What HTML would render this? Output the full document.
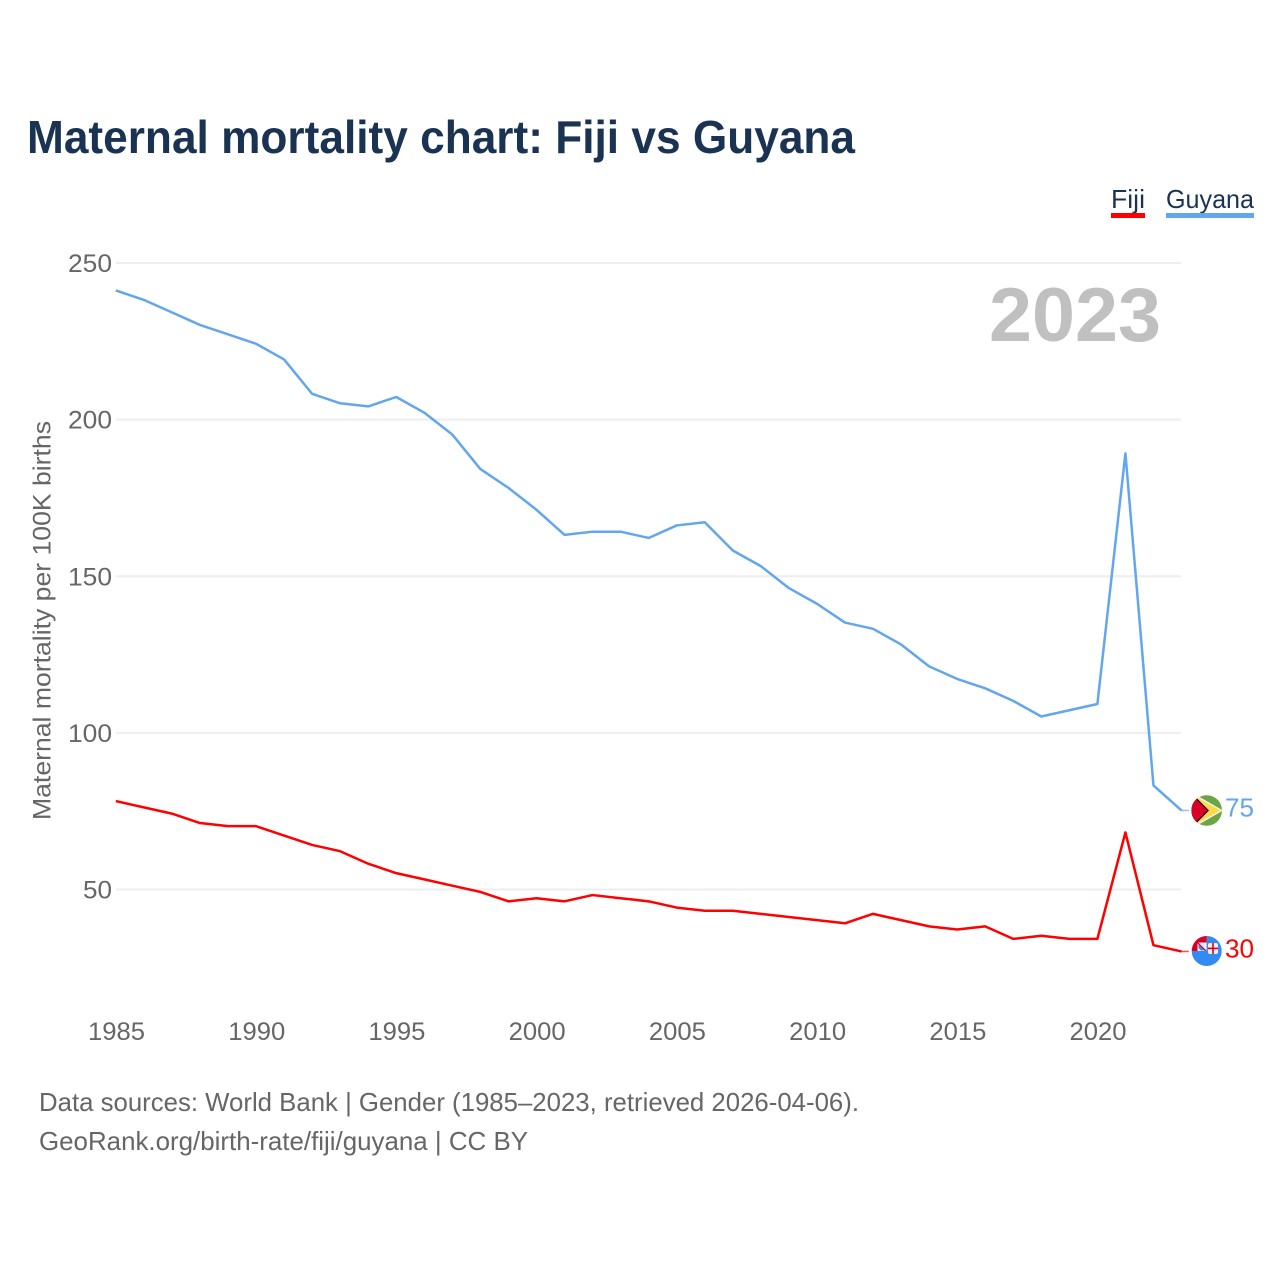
<!DOCTYPE html>
<html lang="en">
<head>
<meta charset="utf-8">
<title>Maternal mortality chart: Fiji vs Guyana</title>
<style>
html,body{margin:0;padding:0;background:#fff;}
svg{display:block;font-family:"Liberation Sans",sans-serif;}
</style>
</head>
<body>
<svg id="chart" width="1280" height="1280" viewBox="0 0 1280 1280" xmlns="http://www.w3.org/2000/svg">
  <rect width="1280" height="1280" fill="#ffffff"/>
  <text x="27" y="153" font-size="46" font-weight="700" fill="#1a3353" textLength="828" lengthAdjust="spacingAndGlyphs">Maternal mortality chart: Fiji vs Guyana</text>

  <g>
    <text x="1111" y="208" font-size="26" fill="#1a3353" textLength="34" lengthAdjust="spacingAndGlyphs">Fiji</text>
    <rect x="1111" y="213" width="34" height="5" fill="#ff0000"/>
  </g>
  <g>
    <text x="1166" y="208" font-size="26" fill="#1a3353" textLength="88" lengthAdjust="spacingAndGlyphs">Guyana</text>
    <rect x="1166" y="213" width="88" height="5" fill="#62a6ec"/>
  </g>

  <g id="grid"></g>
  <g id="yticks"></g>
  <g id="xticks"></g>

  <text transform="translate(50.5,820) rotate(-90)" font-size="25" fill="#666666" textLength="399" lengthAdjust="spacingAndGlyphs">Maternal mortality per 100K births</text>

  <text x="1161" y="341" text-anchor="end" font-size="76" font-weight="700" fill="#c0c0c0" textLength="172" lengthAdjust="spacingAndGlyphs">2023</text>

  <g id="series" transform="translate(-0.2,-0.7)"></g>

  <g>
    <defs>
      <clipPath id="clip-guyana"><circle cx="1206.7" cy="810.5" r="15.3"/></clipPath>
      <clipPath id="clip-fiji-top"><rect x="1191" y="935" width="15.7" height="16"/></clipPath>
    </defs>
    <g clip-path="url(#clip-guyana)">
      <rect x="1191" y="794" width="32" height="33" fill="#6da544"/>
      <polygon points="1197,795.5 1223,810.5 1197,825.5 1190,825.5 1190,795.5" fill="#f0f0f0"/>
      <polygon points="1197,797.5 1220.5,810.5 1197,823.5 1190,823.5 1190,797.5" fill="#ffda44"/>
      <polygon points="1190,797.5 1196,797.5 1209,810.5 1196,823.5 1190,823.5" fill="#000000"/>
      <polygon points="1190,799 1196,799 1207.6,810.5 1196,822 1190,822" fill="#d80027"/>
    </g>
  </g>
  <g>
    <path d="M1206.7 936 A15 15 0 1 1 1191.7 951 L1206.7 951 Z" fill="#338af3"/>
    <g clip-path="url(#clip-fiji-top)">
      <circle cx="1206.7" cy="951" r="15" fill="#d80027"/>
      <rect x="1197.5" y="942.5" width="9.2" height="8.5" fill="#f0f0f0"/>
      <polygon points="1198.5,944 1205,950.5 1201,950.5 1198.5,948" fill="#338af3"/>
      <line x1="1197.5" y1="942.5" x2="1206" y2="951" stroke="#d80027" stroke-width="1.2"/>
    </g>
    <rect x="1208" y="943" width="10" height="11" rx="2" fill="#f0f0f0"/>
    <rect x="1212.2" y="943" width="1.6" height="11" fill="#d80027"/>
    <rect x="1208" y="947.6" width="10" height="1.6" fill="#d80027"/>
  </g>

  <text x="1225" y="816.5" font-size="26" fill="#62a6ec" textLength="29" lengthAdjust="spacingAndGlyphs">75</text>
  <text x="1225" y="957.5" font-size="26" fill="#ff0000" textLength="29" lengthAdjust="spacingAndGlyphs">30</text>

  <text x="39" y="1111" font-size="26" fill="#666666" textLength="820" lengthAdjust="spacingAndGlyphs">Data sources: World Bank | Gender (1985–2023, retrieved 2026-04-06).</text>
  <text x="39" y="1150" font-size="26" fill="#666666" textLength="489" lengthAdjust="spacingAndGlyphs">GeoRank.org/birth-rate/fiji/guyana | CC BY</text>
</svg>
<script>
const years = [1985,1986,1987,1988,1989,1990,1991,1992,1993,1994,1995,1996,1997,1998,1999,2000,2001,2002,2003,2004,2005,2006,2007,2008,2009,2010,2011,2012,2013,2014,2015,2016,2017,2018,2019,2020,2021,2022,2023];
const guyanaValues = [241,238,234,230,227,224,219,208,205,204,207,202,195,184,178,171,163,164,164,162,166,167,158,153,146,141,135,133,128,121,117,114,110,105,107,109,189,83,75];
const fijiValues = [78,76,74,71,70,70,67,64,62,58,55,53,51,49,46,47,46,48,47,46,44,43,43,42,41,40,39,42,40,38,37,38,34,35,34,34,68,32,30];
const yTickValues = [50,100,150,200,250];
const xTickValues = [1985,1990,1995,2000,2005,2010,2015,2020];

const NS = 'http://www.w3.org/2000/svg';
function xScale(year) { return 116 + (year - 1985) * 28.045; }
function yScale(value) { return 889.5 - (value - 50) * 3.1325; }

function make(tag, attrs, parent) {
  const el = document.createElementNS(NS, tag);
  Object.keys(attrs).forEach(function (k) { el.setAttribute(k, attrs[k]); });
  parent.appendChild(el);
  return el;
}

const grid = document.getElementById('grid');
const yticks = document.getElementById('yticks');
const xticks = document.getElementById('xticks');
const series = document.getElementById('series');

yTickValues.forEach(function (v) {
  const line = make('line', {x1: 116, x2: 1181, y1: yScale(v), y2: yScale(v), stroke: '#eeeeee', 'stroke-width': 2}, grid);
  
  
  const label = make('text', {x: 112, y: yScale(v) + 9, 'text-anchor': 'end', 'font-size': 25, fill: '#666666', textLength: 44, lengthAdjust: 'spacingAndGlyphs'}, yticks);
  if (v < 100) { label.setAttribute('textLength', 29); }
  
  
  label.textContent = String(v);
});

xTickValues.forEach(function (y) {
  const label = make('text', {x: xScale(y) + 0.5, y: 1040, 'text-anchor': 'middle', 'font-size': 25, fill: '#666666', textLength: 57, lengthAdjust: 'spacingAndGlyphs'}, xticks);
  
  
  label.textContent = String(y);
});

function linePoints(values) {
  return values.map(function (v, i) { return xScale(years[i]).toFixed(2) + ',' + yScale(v).toFixed(2); }).join(' ');
}

const guyanaLine = make('polyline', {points: linePoints(guyanaValues), fill: 'none', stroke: '#62a6ec', 'stroke-width': 2.5, 'stroke-linejoin': 'round'}, series);



const fijiLine = make('polyline', {points: linePoints(fijiValues), fill: 'none', stroke: '#ff0000', 'stroke-width': 2.5, 'stroke-linejoin': 'round'}, series);



const guyanaLast = guyanaValues[guyanaValues.length - 1];
const guyanaStub = make('line', {x1: xScale(2023), x2: 1189, y1: yScale(guyanaLast), y2: yScale(guyanaLast), stroke: '#62a6ec', 'stroke-width': 1.5, opacity: 0.7}, series);



const fijiLast = fijiValues[fijiValues.length - 1];
const fijiStub = make('line', {x1: xScale(2023), x2: 1189, y1: yScale(fijiLast), y2: yScale(fijiLast), stroke: '#ff0000', 'stroke-width': 1.5, opacity: 0.7}, series);


</script>
</body>
</html>
